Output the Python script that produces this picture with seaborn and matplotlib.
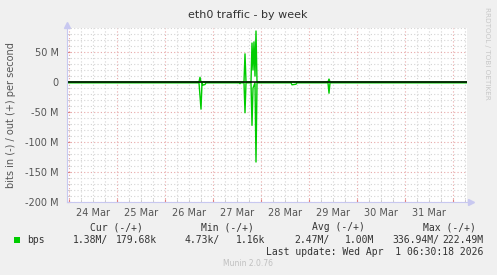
import matplotlib
matplotlib.use("Agg")
import matplotlib.pyplot as plt
import matplotlib.dates as mdates
from matplotlib.ticker import MultipleLocator, FuncFormatter
from matplotlib.patches import Rectangle
import pandas as pd
import seaborn as sns

# ---------------- data (Mbit/s) ----------------
out_times = ["2026-03-23 23:00", "2026-03-26 17:00", "2026-03-26 17:30", "2026-03-26 18:00",
             "2026-03-27 15:30", "2026-03-27 16:00", "2026-03-27 16:30",
             "2026-03-27 19:00", "2026-03-27 19:30", "2026-03-27 20:00", "2026-03-27 20:30",
             "2026-03-27 21:00", "2026-03-27 21:30", "2026-03-27 22:00",
             "2026-03-29 09:30", "2026-03-29 10:00", "2026-03-29 10:30", "2026-04-01 07:00"]
out_mbps = [0.3, 0.3, 8, 0.3,
            0.3, 47, 0.3,
            0.3, 65, 20, 67,
            10, 85, 0.3,
            0.3, 5, 0.3, 0.3]

in_times = ["2026-03-23 23:00", "2026-03-26 17:00", "2026-03-26 18:00", "2026-03-26 18:30",
            "2026-03-26 19:00", "2026-03-26 20:00", "2026-03-26 20:30",
            "2026-03-27 13:00", "2026-03-27 13:30", "2026-03-27 14:00",
            "2026-03-27 15:30", "2026-03-27 16:00", "2026-03-27 16:30",
            "2026-03-27 19:00", "2026-03-27 19:30", "2026-03-27 20:00", "2026-03-27 21:00",
            "2026-03-27 21:30", "2026-03-27 22:00",
            "2026-03-28 15:00", "2026-03-28 15:30", "2026-03-28 17:30", "2026-03-28 18:00",
            "2026-03-29 09:30", "2026-03-29 10:00", "2026-03-29 10:30", "2026-04-01 07:00"]
in_mbps = [-1.2, -1.2, -45, -1.2,
           -5, -4, -1.2,
           -1.2, -2.5, -1.2,
           -1.2, -51, -1.2,
           -1.2, -72, -10, -1.2,
           -133, -1.2,
           -1.2, -4.5, -3.5, -1.2,
           -1.2, -18.5, -1.2, -1.2]

day_labels = ["24 Mar", "25 Mar", "26 Mar", "27 Mar", "28 Mar", "29 Mar", "30 Mar", "31 Mar"]
y_ticks = [-200, -150, -100, -50, 0, 50]
y_tick_labels = ["-200 M", "-150 M", "-100 M", "-50 M", "0", "50 M"]

legend_headers = ["Cur (-/+)", "Min (-/+)", "Avg (-/+)", "Max (-/+)"]
legend_in_vals = ["1.38M/", "4.73k/", "2.47M/", "336.94M/"]
legend_out_vals = ["179.68k", "1.16k", "1.00M", "222.49M"]
series_name = "bps"
last_update = "Last update: Wed Apr  1 06:30:18 2026"
title = "eth0 traffic - by week"
ylabel = "bits in (-) / out (+) per second"

# ---------------- figure ----------------
W, H = 497, 275
BG = "#F0F0F0"
GREEN = "#00CC00"
TXT = "#555555"
fig = plt.figure(figsize=(W / 100, H / 100), dpi=100, facecolor=BG)

def fx(px):
    return px / W

def fy(py):
    return 1 - py / H

left, right, top, bottom = 67, 467, 28, 202.3
ax = fig.add_axes([fx(left), fy(bottom), fx(right - left), (bottom - top) / H])
ax.set_facecolor("white")

df_out = pd.DataFrame({"time": pd.to_datetime(out_times), "value": out_mbps})
df_in = pd.DataFrame({"time": pd.to_datetime(in_times), "value": in_mbps})
sns.lineplot(data=df_in, x="time", y="value", ax=ax, color=GREEN, lw=1.0, zorder=3)
sns.lineplot(data=df_out, x="time", y="value", ax=ax, color=GREEN, lw=1.0, zorder=3)
ax.axhline(0, color="black", lw=1.1, zorder=4)

ax.set_xlim(pd.Timestamp("2026-03-23 23:00"), pd.Timestamp("2026-04-01 07:00"))
ax.set_ylim(-200, 90)

# x ticks: midnight major, 6h minor, labels at noon
ax.xaxis.set_major_locator(mdates.DayLocator())
ax.xaxis.set_major_formatter(FuncFormatter(lambda v, p: ""))
ax.xaxis.set_minor_locator(mdates.HourLocator(byhour=[6, 12, 18]))
noon_map = {}
for i, lab in enumerate(day_labels):
    noon_map[(pd.Timestamp("2026-03-24 12:00") + pd.Timedelta(days=i)).strftime("%m-%d")] = lab

def minor_fmt(v, p):
    d = mdates.num2date(v)
    if d.hour == 12:
        return noon_map.get(d.strftime("%m-%d"), "")
    return ""

ax.xaxis.set_minor_formatter(FuncFormatter(minor_fmt))

ax.yaxis.set_major_locator(MultipleLocator(50))
ax.yaxis.set_minor_locator(MultipleLocator(10))
ax.set_yticks(y_ticks)
ax.set_yticklabels(y_tick_labels)

ax.grid(which="major", color="#E8A8A8", linestyle=(0, (1, 2)), lw=0.8, zorder=1)
ax.grid(which="minor", color="#D4D4D4", linestyle=(0, (1, 2)), lw=0.8, zorder=1)

ax.tick_params(axis="both", which="both", direction="in", labelsize=7, labelcolor=TXT)
ax.tick_params(axis="x", which="major", length=2, color="#E08080")
ax.tick_params(axis="x", which="minor", length=2, color="#C8C8C8", pad=4)
ax.tick_params(axis="y", which="major", length=2, color="#E08080", pad=6)
ax.tick_params(axis="y", which="minor", length=2, color="#C8C8C8")
ax.set_xlabel("")
ax.set_ylabel("")

for s in ["top", "right"]:
    ax.spines[s].set_visible(False)
for s in ["left", "bottom"]:
    ax.spines[s].set_color("#C8C8F0")
    ax.spines[s].set_linewidth(0.8)
    ax.spines[s].set_zorder(5)

# axis arrows
ax.plot([0], [1.02], marker="^", color="#C8C8F0", markersize=4, transform=ax.transAxes, clip_on=False)
ax.plot([1.01], [0], marker=">", color="#C8C8F0", markersize=4, transform=ax.transAxes, clip_on=False)

# texts
fig.text(fx(248), fy(15), title, ha="center", va="center", fontsize=8, color="#333333")
fig.text(fx(11), fy(115), ylabel, ha="center", va="center", rotation=90, fontsize=7, color=TXT)
fig.text(fx(487), fy(53), "RRDTOOL / TOBI OETIKER", ha="center", va="center", rotation=270,
         fontsize=5.2, color="#C8C8C8")

mono = "DejaVu Sans Mono"
hdr_right = [143, 254, 365, 476]
in_right = [108, 220, 330, 439]
out_right = [157, 265, 374, 483]
for h, x in zip(legend_headers, hdr_right):
    fig.text(fx(x), fy(227), h, ha="right", va="center", fontsize=7, family=mono, color="#333333")
for v, x in zip(legend_in_vals, in_right):
    fig.text(fx(x), fy(240), v, ha="right", va="center", fontsize=7, family=mono, color="#333333")
for v, x in zip(legend_out_vals, out_right):
    fig.text(fx(x), fy(240), v, ha="right", va="center", fontsize=7, family=mono, color="#333333")
fig.text(fx(27), fy(240), series_name, ha="left", va="center", fontsize=7, family=mono, color="#333333")
fig.patches.append(Rectangle((fx(14), fy(243)), fx(6), 6 / H, transform=fig.transFigure,
                             facecolor=GREEN, edgecolor="none"))
fig.text(fx(483), fy(252), last_update, ha="right", va="center", fontsize=7, family=mono, color="#333333")
fig.text(fx(248), fy(263), "Munin 2.0.76", ha="center", va="center", fontsize=5.5, color="#C0C0C0")

fig.savefig("out.png", dpi=100, facecolor=BG)
